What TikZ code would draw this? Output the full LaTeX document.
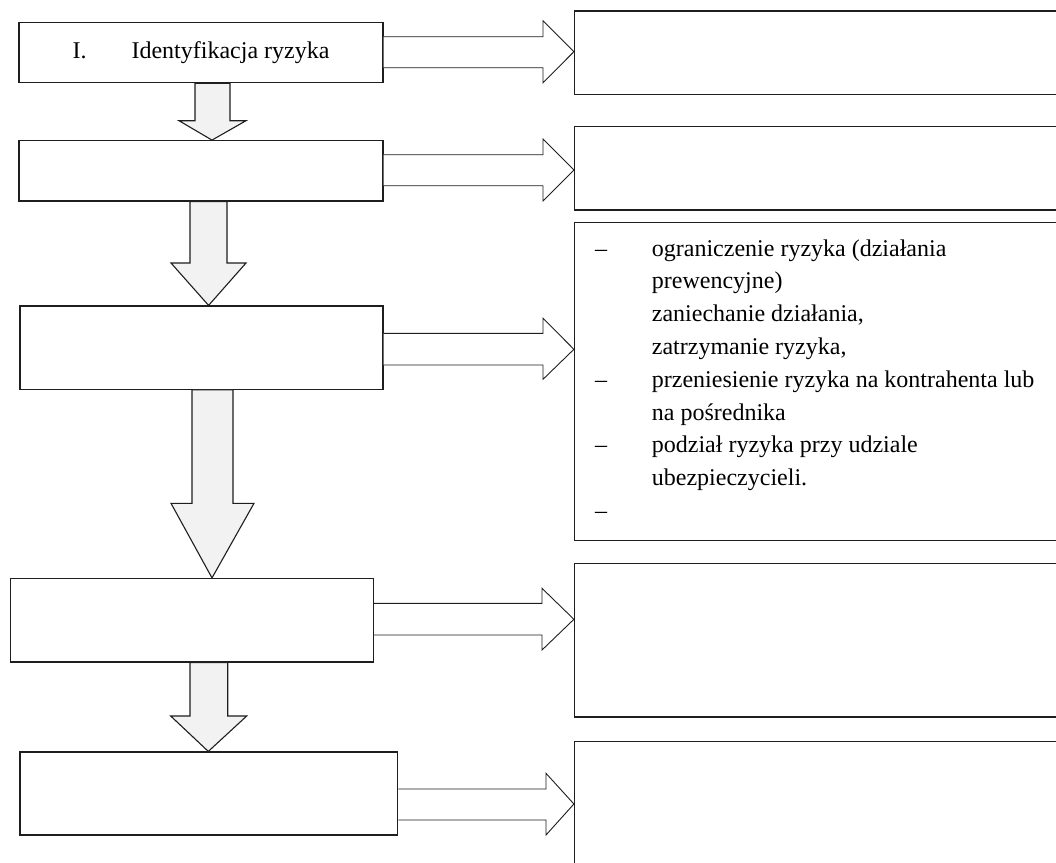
\documentclass[tikz,border=0pt]{standalone}
\usepackage{fontspec}
\setmainfont{Liberation Serif}
\definecolor{arrowgray}{RGB}{242,242,242}
\definecolor{linegray}{RGB}{30,30,30}
\tikzset{
  box/.style={draw=linegray, line width=1.2pt, inner sep=0pt, font=\fontsize{24}{33}\selectfont},
  downarr/.style={draw=linegray, line width=1.1pt, fill=arrowgray, line join=miter},
  rightarr/.style={draw=linegray, line width=0.9pt, fill=white, line join=miter},
  listtxt/.style={inner sep=0pt, anchor=base west, font=\fontsize{24}{33}\selectfont}
}
% #1 from, #2 to, #3 shaft top y, #4 shaft bottom y, #5 head top y, #6 head bottom y, #7 tip y, #8 head base x
\newcommand{\rightblock}[8]{%
  \draw[rightarr] (#1.east |- 0,#3) -- (#8,#3) -- (#8,#5) -- (#2.west |- 0,#7) -- (#8,#6) -- (#8,#4) -- (#1.east |- 0,#4);}
% #1 from, #2 to, #3 shaft left x, #4 shaft right x, #5 head left x, #6 head right x, #7 tip x, #8 head base y
\newcommand{\downblock}[8]{%
  \draw[downarr] (#3,0 |- #1.south) -- (#3,#8) -- (#5,#8) -- (#7,0 |- #2.north) -- (#6,#8) -- (#4,#8) -- (#4,0 |- #1.south) -- cycle;}
\begin{document}
\begin{tikzpicture}[x=1pt,y=-1pt]
\useasboundingbox (0,0) rectangle (1056,862);
\clip (0,0) rectangle (1056,862);
\fill[white] (0,0) rectangle (1056,862);

% left boxes (coordinates only, drawn later)
\node[box, minimum width=364pt, minimum height=60pt] (b1) at (201,52.7) {I.\hspace{45pt}Identyfikacja ryzyka};
\node[box, minimum width=364pt, minimum height=60.3pt] (b2) at (201,170.85) {};
\node[box, minimum width=363pt, minimum height=83.3pt] (b3) at (201.5,347.65) {};
\node[box, minimum width=362.8pt, minimum height=83.5pt] (b4) at (192.1,620.25) {};
\node[box, minimum width=377.7pt, minimum height=83pt] (b5) at (208.85,793.5) {};

% right boxes
\node[box, minimum width=495.5pt, minimum height=83.3pt] (r1) at (822.25,52.65) {};
\node[box, minimum width=495.5pt, minimum height=83.3pt] (r2) at (822.25,168.35) {};
\node[box, minimum width=495.5pt, minimum height=318.2pt] (r3) at (822.25,381.6) {};
\node[box, minimum width=495.5pt, minimum height=153.7pt] (r4) at (822.25,640.15) {};
\node[box, minimum width=495.5pt, minimum height=138.5pt] (r5) at (822.25,810.75) {};

% down arrows
\downblock{b1}{b2}{195}{230}{179}{246}{212}{120.7}
\downblock{b2}{b3}{190}{227}{171}{246}{208.6}{263}
\downblock{b3}{b4}{192}{233}{171}{254}{212}{503.3}
\downblock{b4}{b5}{190}{227.7}{170.7}{246.7}{208.3}{716}

% right arrows
\rightblock{b1}{r1}{36.7}{67.7}{20.7}{82.7}{51.7}{543}
\rightblock{b2}{r2}{154.7}{185.7}{139}{201}{170}{543}
\rightblock{b3}{r3}{333.3}{365}{318.3}{379.3}{349.3}{543}
\rightblock{b4}{r4}{603.3}{635}{588.3}{650}{619.3}{542}
\rightblock{b5}{r5}{789}{820}{773.3}{835}{804}{546}

% list text in r3
\node[listtxt] (d1) at (595,256) {–};
\node[listtxt] (l1) at (651.7,256) {ograniczenie ryzyka (działania};
\node[listtxt] (l2) at (651.7,288.8) {prewencyjne)};
\node[listtxt] (l3) at (651.7,321.6) {zaniechanie działania,};
\node[listtxt] (l4) at (651.7,354.4) {zatrzymanie ryzyka,};
\node[listtxt] (d5) at (595,387.2) {–};
\node[listtxt] (l5) at (651.7,387.2) {przeniesienie ryzyka na kontrahenta lub};
\node[listtxt] (l6) at (651.7,420) {na pośrednika};
\node[listtxt] (d7) at (595,452.8) {–};
\node[listtxt] (l7) at (651.7,452.8) {podział ryzyka przy udziale};
\node[listtxt] (l8) at (651.7,485.6) {ubezpieczycieli.};
\node[listtxt] (d9) at (595,518.4) {–};
\end{tikzpicture}
\end{document}
